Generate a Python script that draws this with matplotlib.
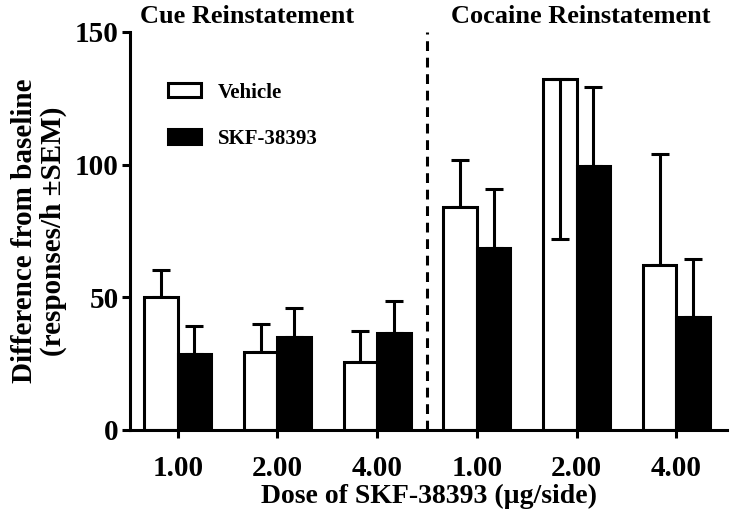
import matplotlib
matplotlib.use("Agg")
import matplotlib.pyplot as plt
import numpy as np

plt.rcParams['font.family'] = ['Liberation Serif', 'DejaVu Serif']
plt.rcParams['font.weight'] = 'bold'

doses = ["1.00", "2.00", "4.00", "1.00", "2.00", "4.00"]
vehicle = [50.2, 29.3, 25.8, 83.9, 132.2, 62.3]
vehicle_err = [10.0, 10.5, 11.4, 17.7, 60.3, 41.8]
vehicle_err_down = [False, False, False, False, True, False]
skf = [28.5, 35.1, 36.7, 68.7, 99.6, 42.7]
skf_err = [10.7, 11.0, 12.0, 22.0, 29.8, 21.6]
panel_titles = ["Cue Reinstatement", "Cocaine Reinstatement"]

fig = plt.figure(figsize=(7.3, 5.21), dpi=100)
ax = fig.add_axes([0.178, 0.1747, 0.818, 0.7639])

x = np.arange(len(doses))
w = 0.335
lw = 2.2
ax.bar(x - w/2, vehicle, w, color='white', edgecolor='black', linewidth=lw, zorder=2, label='Vehicle')
ax.bar(x + w/2, skf, w, color='black', edgecolor='black', linewidth=lw, zorder=2, label='SKF-38393')

for xi, v, e, down in zip(x - w/2, vehicle, vehicle_err, vehicle_err_down):
    if down:
        ax.errorbar(xi, v, yerr=[[e], [0]], fmt='none', ecolor='black', elinewidth=lw,
                    capsize=6.5, capthick=lw, zorder=3)
    else:
        ax.errorbar(xi, v, yerr=[[0], [e]], fmt='none', ecolor='black', elinewidth=lw,
                    capsize=6.5, capthick=lw, zorder=1)
for xi, v, e in zip(x + w/2, skf, skf_err):
    ax.errorbar(xi, v, yerr=[[0], [e]], fmt='none', ecolor='black', elinewidth=lw,
                capsize=6.5, capthick=lw, zorder=1)

ax.axvline(2.5, color='black', linestyle=(0, (3.2, 2.2)), linewidth=lw, zorder=1)

ax.set_xlim(-0.48, 5.51)
ax.set_ylim(0, 150)
ax.set_yticks([0, 50, 100, 150])
ax.set_xticks(x)
ax.set_xticklabels(doses)
for s in ['top', 'right']:
    ax.spines[s].set_visible(False)
for s in ['left', 'bottom']:
    ax.spines[s].set_linewidth(2.2)
ax.tick_params(axis='both', width=2.2, length=6, labelsize=21, pad=2)
ax.tick_params(axis='x', pad=12)
for lab in ax.get_xticklabels() + ax.get_yticklabels():
    lab.set_fontweight('bold')

ax.set_xlabel("Dose of SKF-38393 (\u00b5g/side)", fontsize=20, fontweight='bold', labelpad=1)
ax.set_ylabel("Difference from baseline\n(responses/h \u00b1SEM)", fontsize=21,
              fontweight='bold', labelpad=6, linespacing=1.05)

fig.text(0.338, 0.968, panel_titles[0], ha='center', va='center', fontsize=19, fontweight='bold')
fig.text(0.795, 0.968, panel_titles[1], ha='center', va='center', fontsize=19, fontweight='bold')

leg = ax.legend(loc='upper left', bbox_to_anchor=(0.064, 0.873), frameon=False,
                borderpad=0, borderaxespad=0,
                handlelength=1.6, handleheight=0.67, labelspacing=1.26,
                handletextpad=0.8, prop={'weight': 'bold', 'size': 15})

fig.savefig("out.png", dpi=100)
